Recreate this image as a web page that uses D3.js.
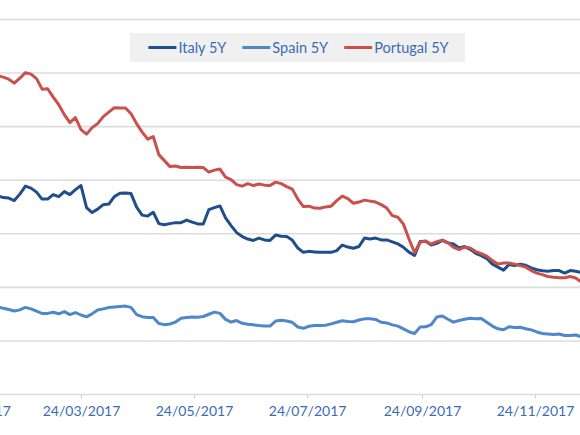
<!DOCTYPE html>
<html>
<head>
<meta charset="utf-8">
<script src="https://cdn.jsdelivr.net/npm/d3@7"></script>
<style>
  html, body { margin: 0; padding: 0; background: #fff; overflow: hidden; }
  svg { display: block; }
  text { font-family: Lato, "Open Sans", sans-serif; }
</style>
</head>
<body>
<svg id="chart" width="580" height="435"></svg>
<script>
// ---- data ----
const dates = [
  "2017-02-07","2017-02-10","2017-02-13","2017-02-16","2017-02-19","2017-02-22","2017-02-25","2017-02-28",
  "2017-03-03","2017-03-06","2017-03-09","2017-03-12","2017-03-15","2017-03-18","2017-03-21","2017-03-24","2017-03-27","2017-03-30",
  "2017-04-02","2017-04-05","2017-04-08","2017-04-11","2017-04-14","2017-04-17","2017-04-20","2017-04-23","2017-04-26","2017-04-29",
  "2017-05-02","2017-05-05","2017-05-08","2017-05-11","2017-05-14","2017-05-17","2017-05-20","2017-05-23","2017-05-26","2017-05-29",
  "2017-06-01","2017-06-04","2017-06-07","2017-06-10","2017-06-13","2017-06-16","2017-06-19","2017-06-22","2017-06-25","2017-06-28",
  "2017-07-01","2017-07-04","2017-07-07","2017-07-10","2017-07-13","2017-07-16","2017-07-19","2017-07-22","2017-07-25","2017-07-28","2017-07-31",
  "2017-08-03","2017-08-06","2017-08-09","2017-08-12","2017-08-15","2017-08-18","2017-08-21","2017-08-24","2017-08-27","2017-08-30",
  "2017-09-02","2017-09-05","2017-09-08","2017-09-11","2017-09-14","2017-09-17","2017-09-20","2017-09-23","2017-09-26","2017-09-29",
  "2017-10-02","2017-10-05","2017-10-08","2017-10-11","2017-10-14","2017-10-17","2017-10-20","2017-10-23","2017-10-26","2017-10-29",
  "2017-11-01","2017-11-04","2017-11-07","2017-11-10","2017-11-13","2017-11-16","2017-11-19","2017-11-22","2017-11-25","2017-11-28",
  "2017-12-01","2017-12-04","2017-12-07","2017-12-10","2017-12-13","2017-12-16","2017-12-19"
];

const italy5Y = [
  185.6,183.8,183.3,181.0,187.0,194.5,192.6,188.9,
  182.4,182.4,186.6,184.7,189.4,186.6,191.2,195.0,174.4,169.8,
  173.0,177.2,177.7,184.7,187.8,188.0,187.5,174.9,167.4,166.5,
  170.1,159.5,158.4,159.5,160.4,160.4,162.8,160.9,159.2,159.2,
  172.6,174.4,176.0,164.8,157.6,151.1,147.4,145.1,143.8,146.0,
  144.3,143.8,148.8,147.7,147.4,144.1,136.7,132.7,133.6,133.1,132.7,
  132.7,132.7,134.3,139.5,137.6,136.5,138.1,146.0,145.2,146.0,
  144.3,144.3,142.4,140.6,137.4,132.9,129.7,142.7,143.0,139.5,
  141.1,143.9,141.5,140.4,136.8,138.1,135.5,131.8,129.5,126.9,
  121.7,118.9,116.1,121.3,120.3,121.5,120.6,118.2,116.4,115.5,
  115.1,115.7,115.7,113.3,115.7,115.1,113.8
];

const spain5Y = [
  81.6,80.5,79.3,77.9,79.0,81.3,79.9,77.9,
  75.6,75.7,76.7,75.3,77.4,74.6,76.5,74.2,72.5,75.3,
  78.8,79.9,81.2,81.6,82.1,82.5,81.3,74.6,72.6,71.8,
  71.8,66.2,65.2,65.8,67.6,71.1,71.8,72.3,72.1,72.8,
  74.9,76.9,75.7,70.1,67.6,69.0,66.4,65.6,65.0,64.4,
  64.0,63.9,68.5,69.2,68.6,67.4,63.0,61.8,63.7,64.4,64.4,
  64.6,65.9,67.4,68.8,68.2,67.9,69.5,70.6,70.6,70.1,
  67.4,66.8,65.0,63.8,61.3,58.6,56.9,62.9,63.2,65.3,
  72.3,73.2,70.2,67.5,69.1,70.3,71.1,70.6,70.9,67.4,
  63.9,61.3,60.4,63.2,62.5,62.7,61.3,60.3,58.4,57.0,
  56.5,56.0,56.4,55.0,55.0,55.5,53.8
];

const portugal5Y = [
  297.6,296.2,294.3,290.6,295.2,300.4,299.0,294.8,
  285.0,285.4,277.5,270.5,261.2,253.7,258.4,247.2,243.0,249.1,
  252.8,259.3,263.5,267.7,267.4,267.4,262.1,252.8,244.9,238.3,
  240.7,223.9,218.3,212.7,213.2,211.8,212.2,211.8,212.2,211.8,
  207.6,209.4,210.4,202.9,200.6,195.9,194.5,196.8,195.0,196.4,
  195.4,195.0,198.2,196.8,194.0,191.7,182.4,175.4,175.8,174.0,173.8,
  175.1,175.8,181.0,185.2,182.8,178.5,179.6,181.4,180.5,179.6,
  177.2,174.0,167.0,165.4,159.0,145.1,132.5,142.1,143.2,140.4,
  142.7,144.1,141.8,137.4,135.3,137.6,136.7,133.4,131.5,129.2,
  125.0,121.7,122.7,122.7,121.7,120.3,118.9,115.7,113.3,111.9,
  110.1,109.4,108.9,108.9,110.1,108.7,104.9
];

const seriesNames = ["Italy 5Y", "Spain 5Y", "Portugal 5Y"];
const seriesColors = ["#1f4e8c", "#4f87c9", "#c9504b"];
const seriesValues = [italy5Y, spain5Y, portugal5Y];

const tickDates = ["2017-01-24","2017-03-24","2017-05-24","2017-07-24","2017-09-24","2017-11-24"];
const yTicks = [0, 50, 100, 150, 200, 250, 300, 350];

// ---- drawing ----
const parse = d3.timeParse("%Y-%m-%d");
const fmt = d3.timeFormat("%d/%m/%Y");
const svg = d3.select("#chart");

const x = d3.scaleTime()
  .domain([parse("2017-03-24"), parse("2017-11-24")])
  .range([81, 535]);
const y = d3.scaleLinear().domain([0, 350]).range([394.5, 19.5]);

// gridlines
svg.append("g").selectAll("line")
  .data(yTicks.filter(v => v > 0))
  .join("line")
  .attr("x1", 0).attr("x2", 580)
  .attr("y1", d => y(d)).attr("y2", d => y(d))
  .attr("stroke", "#dcdcdc").attr("stroke-width", 1.6);

// x axis
const xAxis = d3.axisBottom(x)
  .tickValues(tickDates.map(parse))
  .tickFormat(fmt)
  .tickSize(4)
  .tickPadding(8);
const gx = svg.append("g").attr("transform", `translate(0,${y(0)})`).call(xAxis);
gx.select(".domain").remove();
gx.selectAll(".tick line").attr("stroke", "#d0d0d0").attr("stroke-width", 1.2);
gx.selectAll(".tick text")
  .attr("fill", "#3a6cb4")
  .style("font-size", "14px")
  .style("font-family", "Lato, 'Open Sans', sans-serif");
svg.append("line")
  .attr("x1", 0).attr("x2", 580)
  .attr("y1", y(0)).attr("y2", y(0))
  .attr("stroke", "#dcdcdc").attr("stroke-width", 1.6);

// lines
const line = d3.line()
  .x((d, i) => x(parse(dates[i])))
  .y(d => y(d));

seriesValues.forEach((vals, k) => {
  svg.append("path")
    .datum(vals)
    .attr("fill", "none")
    .attr("stroke", seriesColors[k])
    .attr("stroke-width", 3)
    .attr("stroke-linejoin", "round")
    .attr("stroke-linecap", "round")
    .attr("d", line);
});

// legend
const legend = svg.append("g");
const legBg = legend.append("rect").attr("fill", "#f0f0f0");
let cx = 0;
seriesNames.forEach((name, k) => {
  const g = legend.append("g").attr("transform", `translate(${cx},0)`);
  g.append("line").attr("x1", 0).attr("x2", 28).attr("y1", 0).attr("y2", 0)
    .attr("stroke", seriesColors[k]).attr("stroke-width", 3);
  const t = g.append("text").attr("x", 30).attr("y", 0).attr("dy", "0.35em")
    .attr("fill", "#3a6cb4").style("font-size", "14.5px").text(name);
  const w = t.node().getComputedTextLength();
  cx += 30 + w + 16;
});
const totalW = cx - 16;
const boxLeft = 130, boxRight = 465;
const startX = (boxLeft + boxRight) / 2 - totalW / 2 + 1;
legend.selectAll("g").each(function () {
  const tr = d3.select(this).attr("transform");
  const m = /translate\(([-\d.]+),/.exec(tr);
  d3.select(this).attr("transform", `translate(${startX + +m[1]},47.5)`);
});
legBg.attr("x", boxLeft).attr("y", 33).attr("width", boxRight - boxLeft).attr("height", 29);
</script>
</body>
</html>
